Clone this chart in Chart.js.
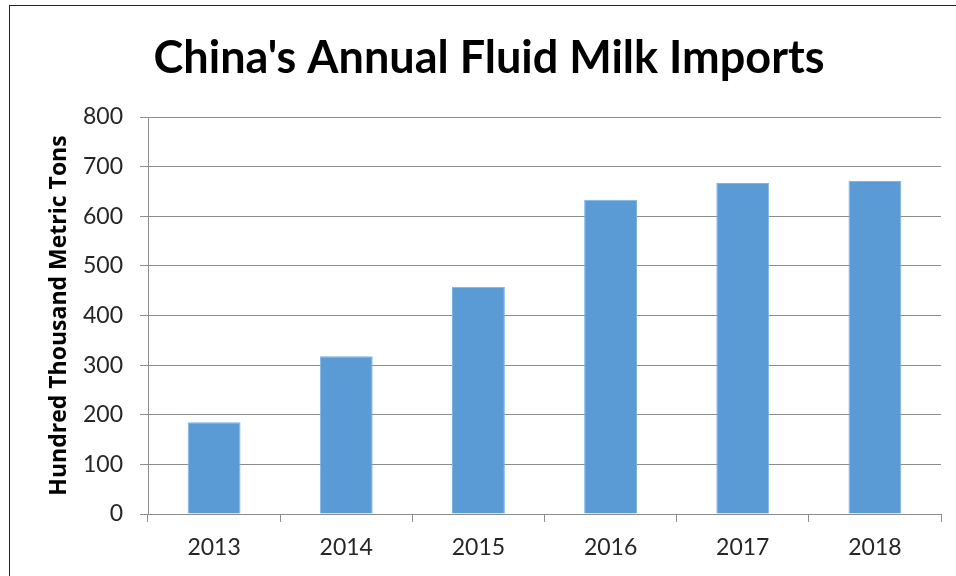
<!DOCTYPE html>
<html lang="en">
<head>
    <meta charset="UTF-8">
    <title>China's Annual Fluid Milk Imports</title>
    <script src="https://cdn.jsdelivr.net/npm/chart.js"></script>
    <style>
        body {
            margin: 0;
            background: white;
        }
        #wrap {
            position: relative;
            width: 956px;
            height: 576px;
            overflow: hidden;
        }
        #frame {
            position: absolute;
            left: 9px;
            top: 5px;
            width: 960px;
            height: 600px;
            border: 1px solid #222;
            box-sizing: border-box;
            pointer-events: none;
        }
    </style>
</head>
<body>
    <div id="wrap">
        <canvas id="milkChart" width="956" height="576"></canvas>
        <div id="frame"></div>
    </div>

    <script>
        const years = ['2013', '2014', '2015', '2016', '2017', '2018'];
        const imports = [185, 318, 458, 633, 667, 671];
        const yTicks = [0, 100, 200, 300, 400, 500, 600, 700, 800];

        const gridGray = '#8c8c8c';
        const textColor = '#262626';

        let ctx = document.getElementById('milkChart').getContext('2d');
        let milkChart = new Chart(ctx, {
            type: 'bar',
            data: {
                labels: years,
                datasets: [{
                    label: 'Fluid milk imports',
                    data: imports,
                    backgroundColor: '#5b9bd5',
                    borderColor: '#7fb2e2',
                    borderWidth: 1,
                    barPercentage: 0.4,
                    categoryPercentage: 1.0
                }]
            },
            options: {
                responsive: false,
                animation: false,
                layout: { padding: { left: 37, right: 15, top: 0, bottom: 0 } },
                plugins: {
                    legend: { display: false },
                    tooltip: { enabled: false },
                    title: {
                        display: true,
                        text: "China's Annual Fluid Milk Imports",
                        color: '#000',
                        font: { family: 'Lato', size: 45, weight: 'bold', lineHeight: 1.2 },
                        padding: { top: 31, bottom: 32 }
                    }
                },
                scales: {
                    x: {
                        grid: {
                            offset: true,
                            drawOnChartArea: false,
                            color: gridGray,
                            tickLength: 8
                        },
                        border: { color: gridGray, width: 1 },
                        ticks: {
                            color: textColor,
                            font: { family: 'Lato', size: 23 },
                            padding: 12
                        },
                        afterFit: function (scale) { scale.height = 62; }
                    },
                    y: {
                        min: 0,
                        max: 800,
                        afterBuildTicks: function (scale) {
                            scale.ticks = yTicks.map(v => ({ value: v }));
                        },
                        grid: { color: gridGray, tickLength: 8 },
                        border: { color: gridGray, width: 1 },
                        ticks: {
                            color: textColor,
                            font: { family: 'Lato', size: 23 },
                            padding: 17
                        },
                        title: {
                            display: true,
                            text: 'Hundred Thousand Metric Tons',
                            color: '#000',
                            font: { family: 'Open Sans', size: 23, weight: 'bold' },
                            padding: { top: 9, bottom: 0 }
                        },
                        afterFit: function (scale) { scale.width = 111; }
                    }
                }
            }
        });
    </script>
</body>
</html>
